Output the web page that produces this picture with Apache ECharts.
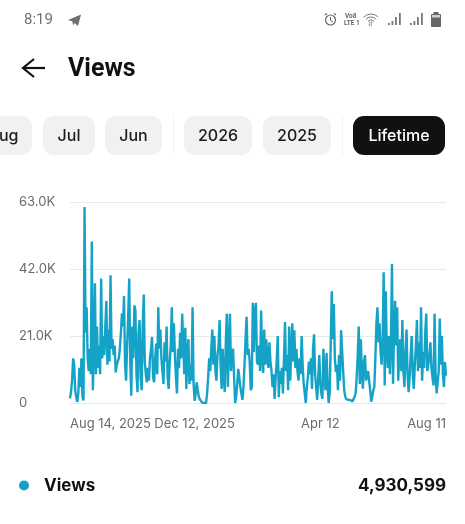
<!DOCTYPE html>
<html><head><meta charset="utf-8">
<style>html,body{margin:0;padding:0;background:#fff}#c{width:465px;height:524px}</style>
<script src="https://cdn.jsdelivr.net/npm/echarts@6/dist/echarts.min.js"></script>
</head><body><div id="c"></div>
<script>
const tickLabels = {0:'Aug 14, 2025',120:'Dec 12, 2025',241:'Apr 12',362:'Aug 11'};
const yTicks = [0,21000,42000,63000];
const seriesName = 'Views';
const totalViews = '4,930,599';
const viewsK = [
1.5,3.5,7,14,12,4,2,0.3,3,11,
5,14,2,0.8,61.4,22,30,14,10,17,
9,50.6,4,16,37.5,9,24,11,18,9,
39,14,21,15,24,32,12,23,13,40,
17,20,15,18,9.6,12,13,14,17,22,
28,24,33.5,12,7,18,27,39,13,2.3,
24,14,30.6,29,9,3.4,22,26,8,4,
24,34,13,9,6.5,11,7,14,17,20.7,
8,6.5,14,18.6,9,30,17,23,14,10,
6,19,13,24,8,4.4,13,18,30,16,
25,15,8,3,17,11,22,14,28,19,
9,23.6,4.4,16,20,6,12,7,30,6,
0.7,3,6.5,4,2,1.2,0.6,0.2,0,0,
0,0,3,8,14,10,17,23,12,21,
10,7,15,18,26,12,4.4,17,8,3.5,
19,28,5,18,28,10,15,17,8,0,
2,6,10.7,8,5,3,1,5,12,20,
27,15,17,13,4,5,31.4,16,29,31.4,
13,12,18,10,29,14,9.4,23,12,20,
14,11,19,13,10,5,9,1.3,8,13,
21,1.8,10,6,11,3,14,25.4,10,15,
4,24,7,16,25,13,22.8,11,17,10,
7,14,9,21,12,6,3,0,5,8,
13,9,14,4.4,17,21.5,9,5,1,8,
15,6,3,1.3,17,8,4,15.7,6,0,
3,18,35,20,31,14,9.7,12,4,15,
7,22.8,23,10,4,2,1.2,1.1,1,1,
0.9,0.6,0.5,1,2,3,8,15,24,6,
20,9,4.5,13,15,7,9,10,7,4,
0.4,2,4,5,14,25,30,19,25,16,
12,20,41,5.5,35,17,11,21,9,20,
43.6,6,22,32,18,30,7,15,20,10,
26,10,5,16,23,9,3.4,8,15,21,
9,4.4,12,18,26,10,19,11,30,7,
16,11,22,28,10,12,15,19,11,8,
5.5,28,9,3,3.5,10,26.5,12,21,9,
5,12.8,8.6];
const views = viewsK.map(v => v * 1000);
const days = viewsK.map((_, i) => i);

const FONT = 'Inter';
const LINE = '#14a3c7';
const pills = [
  {t:'Aug',x:-12,w:44,tx:3},
  {t:'Jul',x:43,w:52},
  {t:'Jun',x:105,w:57},
  {t:'2026',x:184,w:68},
  {t:'2025',x:263,w:68},
  {t:'Lifetime',x:353,w:92,dark:true}
];
const g = [];
pills.forEach(p => {
  g.push({type:'rect',shape:{x:p.x,y:116,width:p.w,height:39,r:11},style:{fill:p.dark?'#111111':'#f1f1f1'}});
  g.push({type:'text',style:{text:p.t,x:p.tx!==undefined?p.tx:p.x+p.w/2,y:136,align:'center',verticalAlign:'middle',font:'500 16px '+FONT,fill:p.dark?'#ffffff':'#1c1c1c'}});
});
[173,342].forEach(x => g.push({type:'rect',shape:{x:x,y:116,width:1,height:39},style:{fill:'#f2f2f2'}}));
g.push({type:'text',style:{text:'8:19',x:24,y:20,verticalAlign:'middle',font:'400 15px Roboto',fill:'#707070'}});
g.push({type:'polygon',shape:{points:[[68,20],[81,14.5],[78,26],[74.5,23],[73,25.5],[72.5,21.5]]},style:{fill:'#6f6f6f'}});
g.push({type:'circle',shape:{cx:330.5,cy:20,r:5},style:{fill:'none',stroke:'#666',lineWidth:1.2}});
g.push({type:'polyline',shape:{points:[[330.5,17],[330.5,20.5],[333,22]]},style:{fill:'none',stroke:'#666',lineWidth:1}});
g.push({type:'line',shape:{x1:325,y1:15,x2:327,y2:13.5},style:{stroke:'#666',lineWidth:1.2}});
g.push({type:'line',shape:{x1:336,y1:15,x2:334,y2:13.5},style:{stroke:'#666',lineWidth:1.2}});
g.push({type:'text',style:{text:'Vo8',x:345,y:16,font:'700 6.5px Roboto',verticalAlign:'middle',fill:'#666'}});
g.push({type:'text',style:{text:'LTE 1',x:344,y:23,font:'700 6.5px Roboto',verticalAlign:'middle',fill:'#666'}});
[4,7,10].forEach(r => g.push({type:'arc',shape:{cx:371,cy:24,r:r,startAngle:-2.4,endAngle:-0.75},style:{fill:'none',stroke:'#777',lineWidth:1}}));
g.push({type:'text',style:{text:'⇵',x:368,y:24,font:'6px DejaVu Sans',verticalAlign:'middle',fill:'#777'}});
[388,410].forEach(x0 => {
  [[0,2],[3.5,4],[7,8],[11,12]].forEach(b => g.push({type:'rect',shape:{x:x0+b[0],y:25-b[1],width:1.8,height:b[1]},style:{fill:'#777'}}));
});
g.push({type:'rect',shape:{x:431,y:14,width:10,height:13,r:1},style:{fill:'#666'}});
g.push({type:'rect',shape:{x:433.5,y:12,width:5,height:2},style:{fill:'#666'}});
g.push({type:'rect',shape:{x:432,y:15,width:8,height:2.5},style:{fill:'#ccc'}});
g.push({type:'polyline',shape:{points:[[34,59],[23,68],[34,77]]},style:{fill:'none',stroke:'#111',lineWidth:2.2}});
g.push({type:'line',shape:{x1:23.5,y1:68,x2:45,y2:68},style:{stroke:'#111',lineWidth:2.2}});
g.push({type:'text',style:{text:'Views',x:68,y:70,verticalAlign:'middle',font:'700 25px Roboto',fill:'#111'}});
g.push({type:'text',style:{text:totalViews,x:446,y:486,align:'right',verticalAlign:'middle',font:'700 17px '+FONT,fill:'#111'}});

const chart = echarts.init(document.getElementById('c'),null,{renderer:'canvas'});
chart.setOption({
  animation:false,
  backgroundColor:'#fff',
  grid:{left:70,right:19,top:202,bottom:121},
  legend:{show:true,left:14,top:472,icon:'circle',itemWidth:10,itemHeight:10,itemGap:8,
    data:[seriesName],
    textStyle:{fontFamily:FONT,fontWeight:700,fontSize:17,color:'#111',padding:[0,0,0,10]}},
  xAxis:{type:'category',data:days,boundaryGap:false,
    axisLine:{show:false},axisTick:{show:false},splitLine:{show:false},
    axisLabel:{interval:(i)=>tickLabels[i]!==undefined,formatter:(v)=>tickLabels[v]||'',
      alignMinLabel:'left',alignMaxLabel:'right',hideOverlap:false,showMinLabel:true,showMaxLabel:true,
      margin:15,fontFamily:FONT,fontSize:13,color:'#6a6a6a'}},
  yAxis:{type:'value',min:yTicks[0],max:yTicks[3],interval:yTicks[1],
    axisLine:{show:false},axisTick:{show:false},
    splitLine:{lineStyle:{color:'#e9e9e9',width:1}},
    axisLabel:{align:'left',margin:51,fontFamily:FONT,fontSize:13,color:'#6a6a6a',padding:[2,0,0,0],
      formatter:(v)=>v===0?'0':(v/1000).toFixed(1)+'K'}},
  series:[{name:seriesName,type:'line',data:views,showSymbol:false,smooth:false,
    itemStyle:{color:LINE},lineStyle:{color:LINE,width:2.4}}],
  graphic:g
});
</script></body></html>
